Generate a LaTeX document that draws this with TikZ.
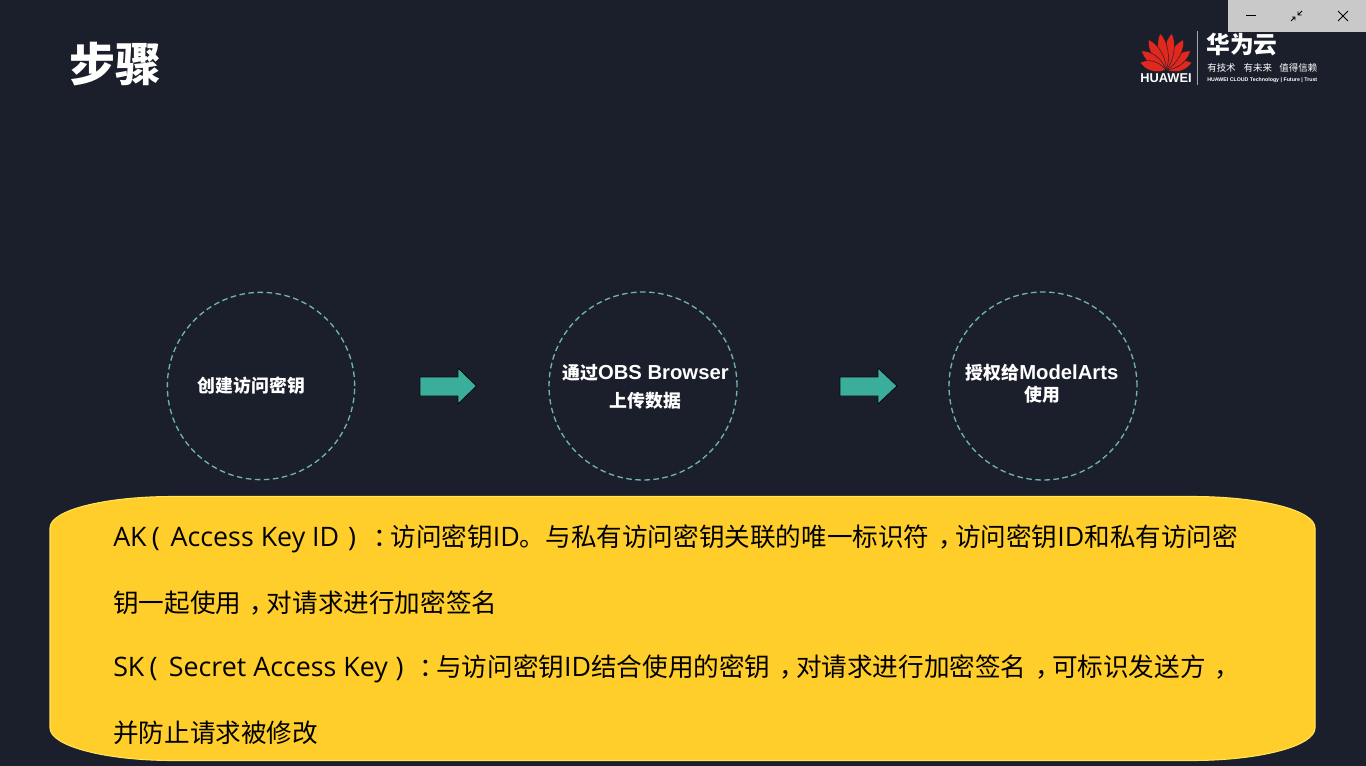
\documentclass[tikz,border=0pt]{standalone}
\usepackage{fontspec}
\setmainfont{Noto Sans CJK SC}
\newfontfamily\lat{Liberation Sans}
\newfontfamily\opn{Open Sans}
\definecolor{bgc}{HTML}{1B1E2B}
\definecolor{teal}{HTML}{3AAE9B}
\definecolor{ringc}{HTML}{6FB3AC}
\definecolor{gold}{HTML}{FFCE2B}
\definecolor{goldline}{HTML}{FFE45A}
\definecolor{winc}{HTML}{C9C9C9}
\definecolor{petal}{HTML}{E0281E}
\newcommand{\la}[1]{{\opn\fontsize{20.1}{24}\selectfont #1}}
\newcommand{\cm}{\hspace{.34em}，\hspace{-.34em}}
\newcommand{\cl}{\hspace{.34em}：\hspace{-.34em}}
\tikzset{
  ring/.style={draw=ringc,line width=1pt,dash pattern=on 4.2pt off 2.6pt},
  steptext/.style={text=white,font=\fontsize{13.4}{20}\selectfont\bfseries,align=center,inner sep=0pt},
  notetext/.style={text=black,font=\fontsize{19.2}{24}\selectfont,anchor=west,inner sep=0pt},
  blockarrow/.style={fill=teal,draw=black!70!bgc,line width=.6pt,line join=miter},
  winicon/.style={draw=black,line width=.7pt},
  petalshape/.style={fill=petal,draw=bgc,line width=.35pt}
}
\begin{document}
\begin{tikzpicture}[x=0.75pt,y=-0.75pt]
\useasboundingbox (0,0) rectangle (1366,766);
\fill[bgc] (0,0) rectangle (1366,766);
% title
\node[text=white,font=\fontsize{34.5}{40}\selectfont\bfseries,inner sep=0pt] (title) at (115,64) {步骤};
% window controls
\fill[winc] (1228,0) rectangle (1366,32);
\draw[winicon] (1246,15.5) -- (1256,15.5);
\draw[winicon] (1302,11) -- (1298,15) (1298,11.5) -- (1298,15) -- (1301.5,15);
\draw[winicon] (1291,21) -- (1295,17) (1292,17) -- (1295,17) -- (1295,20.5);
\draw[winicon] (1338,11) -- (1348,21) (1348,11) -- (1338,21);
% logo
\foreach \a/\l in {-74/27,-52/31,-30/35,-9/37,9/37,30/35,52/31,74/27}{
  \begin{scope}[shift={(1166,70)},rotate=\a]
    \fill[petalshape] (0,0) .. controls (-7,-10) and (-6,-\l+7) .. (0,-\l)
       .. controls (6,-\l+7) and (7,-10) .. (0,0) -- cycle;
  \end{scope}
}
\node[text=white,font=\lat\fontsize{9.6}{12}\selectfont\bfseries,inner sep=0pt] (brand) at (1166,78) {HUAWEI};
\fill[white!60!bgc] (1196.5,31) rectangle (1198,85);
\node[text=white,font=\fontsize{17.8}{20}\selectfont\bfseries,anchor=west,inner sep=0pt] (cloud) at (1206,45) {华为云};
\node[text=white,font=\fontsize{7.1}{9}\selectfont,anchor=west,inner sep=0pt] (slogan) at (1207,68) {有技术\hspace{6pt}有未来\hspace{5.5pt}值得信赖};
\node[text=white,font=\lat\fontsize{3.95}{5}\selectfont\bfseries,anchor=west,inner sep=0pt] (slogan2) at (1207,80.5) {HUAWEI CLOUD Technology | Future | Trust};
% circles
\node[ring,circle,minimum size=140.5pt,inner sep=0pt] (c1) at (261,386) {};
\node[ring,circle,minimum size=141pt,inner sep=0pt] (c2) at (643,386) {};
\node[ring,circle,minimum size=141pt,inner sep=0pt] (c3) at (1043,386) {};
\node[steptext] (t1) at (251.5,385.5) {创建访问密钥};
\node[steptext] (t2a) at (645.5,373) {通过{\lat\fontsize{15.2}{20}\selectfont\bfseries OBS Browser}};
\node[steptext] (t2b) at (645.5,400.5) {上传数据};
\node[steptext] (t3a) at (1042,373) {授权给{\lat\fontsize{15.2}{20}\selectfont\bfseries ModelArts}};
\node[steptext] (t3b) at (1042,394.5) {使用};
% block arrows
\draw[blockarrow] (420,377) -- (458,377) -- (458,368) -- (476.5,386) -- (458,404) -- (458,396) -- (420,396) -- cycle;
\draw[blockarrow] (840,377) -- (878,377) -- (878,368) -- (897,386) -- (878,404) -- (878,396) -- (840,396) -- cycle;
% yellow panel
\draw[fill=gold,draw=goldline,line width=.8pt] (50,528) .. controls (50,510) and (105,496.5) .. (173,496.5)
  -- (1192,496.5) .. controls (1260,496.5) and (1315,510) .. (1315,528)
  -- (1315,728) .. controls (1315,746) and (1260,760.5) .. (1192,760.5)
  -- (173,760.5) .. controls (105,760.5) and (50,746) .. (50,728) -- cycle;
\node[notetext] (l1) at (113,538.5) {\la{AK}\hspace{.2em}\la{(}\hspace{.43em}\la{Access Key ID}\hspace{.35em}\la{)}\hspace{.34em}\cl 访问密钥\la{ID}。与私有访问密钥关联的唯一标识符\cm 访问密钥\la{ID}和私有访问密};
\node[notetext] (l2) at (113,603) {钥一起使用\cm 对请求进行加密签名};
\node[notetext] (l3) at (113,668.5) {\la{SK}\hspace{.2em}\la{(}\hspace{.45em}\la{Secret Access Key}\hspace{.3em}\la{)}\hspace{.28em}\cl 与访问密钥\la{ID}结合使用的密钥\cm 对请求进行加密签名\cm 可标识发送方\cm};
\node[notetext] (l4) at (113,733) {并防止请求被修改};
\end{tikzpicture}
\end{document}
